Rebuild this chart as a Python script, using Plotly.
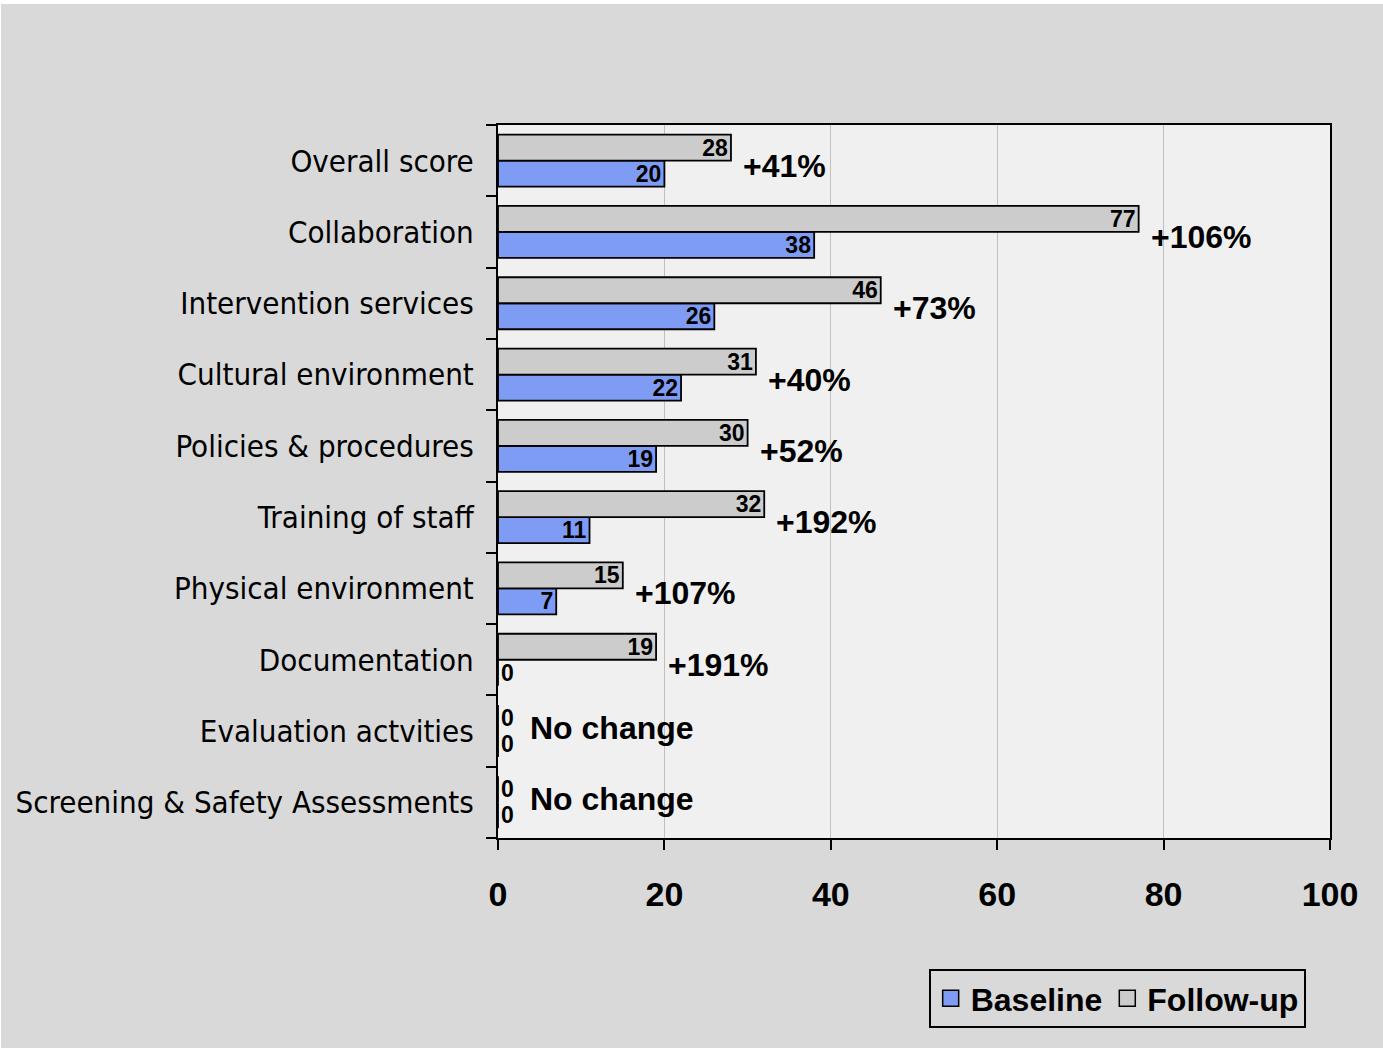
import plotly.graph_objects as go

categories = ["Overall score", "Collaboration", "Intervention services",
              "Cultural environment", "Policies & procedures", "Training of staff",
              "Physical environment", "Documentation", "Evaluation actvities",
              "Screening & Safety Assessments"]
baseline = [20, 38, 26, 22, 19, 11, 7, 0, 0, 0]
followup = [28, 77, 46, 31, 30, 32, 15, 19, 0, 0]
change_labels = ["+41%", "+106%", "+73%", "+40%", "+52%", "+192%", "+107%",
                 "+191%", "No change", "No change"]
x_ticks = [0, 20, 40, 60, 80, 100]

BLUE = "#7f9cf5"
GREY = "#cccccc"
BG = "#d9d9d9"
PLOT_BG = "#f0f0f0"
BOLD = "Liberation Sans"


def positions(vals):
    return ["outside" if v == 0 else "inside" for v in vals]


fig = go.Figure()
for name, vals, col in [("Baseline", baseline, BLUE), ("Follow-up", followup, GREY)]:
    fig.add_trace(go.Bar(
        name=name, y=categories, x=vals, orientation="h", showlegend=False,
        marker=dict(color=col, line=dict(color="black", width=1.8)),
        text=[str(v) for v in vals], textposition=positions(vals),
        insidetextanchor="end", constraintext="none", textangle=0,
        textfont=dict(family=BOLD, size=23, color="black", weight="bold"),
        cliponaxis=False,
    ))

# legend entries (square markers)
for name, col in [("Baseline", BLUE), ("Follow-up", GREY)]:
    fig.add_trace(go.Scatter(
        name=name, x=[None], y=[None], mode="markers",
        marker=dict(symbol="square", size=18, color=col,
                    line=dict(color="black", width=1.5)),
        showlegend=True,
    ))

for cat, b, f, lab in zip(categories, baseline, followup, change_labels):
    m = max(b, f)
    fig.add_annotation(
        x=m, y=cat, xref="x", yref="y", text="<b>" + lab + "</b>",
        showarrow=False, xanchor="left", yanchor="middle",
        xshift=10 if m > 0 else 30, yshift=-5 if m > 0 else 3,
        font=dict(family=BOLD, size=32, color="black"),
    )

fig.update_layout(
    width=1382, height=1044,
    paper_bgcolor=BG, plot_bgcolor=PLOT_BG,
    margin=dict(l=497, r=53, t=121, b=210, autoexpand=False),
    barmode="group", bargap=0.27, bargroupgap=0,
    showlegend=True,
    legend=dict(
        orientation="h", x=0.971, xanchor="right", y=-0.184, yanchor="top",
        bgcolor=BG, bordercolor="black", borderwidth=1.8,
        font=dict(family=BOLD, size=32, color="black", weight="bold"),
        itemsizing="trace", traceorder="normal", itemwidth=30,
        tracegroupgap=0,
    ),
    xaxis=dict(
        range=[0, 100], tickvals=x_ticks, ticktext=[str(t) for t in x_ticks],
        showgrid=True, gridcolor="#c0c0c0", gridwidth=1,
        showline=True, linecolor="black", linewidth=2, mirror=True,
        ticks="outside", ticklen=10, tickcolor="black", tickwidth=2,
        tickfont=dict(family=BOLD, size=34, color="black", weight="bold"),
        ticklabelstandoff=15,
        zeroline=False, fixedrange=True,
    ),
    yaxis=dict(
        type="category", categoryorder="array",
        categoryarray=list(reversed(categories)),
        showline=True, linecolor="black", linewidth=2, mirror=True,
        ticks="outside", ticklen=10, tickcolor="black", tickwidth=2,
        tickson="boundaries", showgrid=False,
        tickfont=dict(family="DejaVu Sans Condensed, DejaVu Sans", size=31, color="black"),
        ticklabelstandoff=16,
    ),
)

fig.write_html(
    "out.html",
    post_script="document.body.style.margin='4px 0 0 1px';"
                "document.documentElement.style.overflow='hidden';"
                "document.body.style.background='#ffffff';",
)
